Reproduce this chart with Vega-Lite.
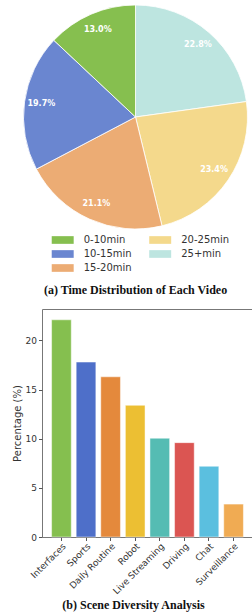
{
  "$schema": "https://vega.github.io/schema/vega-lite/v6.json",
  "padding": {"left": 11, "top": 0, "right": 0, "bottom": 0},
  "background": "white",
  "spacing": 12,
  "resolve": {"scale": {"color": "independent"}, "legend": {"color": "independent"}},
  "config": {"view": {"stroke": null}, "font": "DejaVu Sans"},
  "vconcat": [
    {
      "width": 211,
      "height": 234,
      "title": {"text": "(a) Time Distribution of Each Video", "orient": "bottom", "font": "Liberation Serif", "fontSize": 12, "fontWeight": "bold", "anchor": "middle", "offset": 12, "color": "#111", "dx": -12},
      "data": {"values": [
        {"range": "25+min", "pct": 22.8, "ord": 1, "label": "22.8%"},
        {"range": "20-25min", "pct": 23.4, "ord": 2, "label": "23.4%"},
        {"range": "15-20min", "pct": 21.1, "ord": 3, "label": "21.1%"},
        {"range": "10-15min", "pct": 19.7, "ord": 4, "label": "19.7%"},
        {"range": "0-10min", "pct": 13.0, "ord": 5, "label": "13.0%"}
      ]},
      "encoding": {
        "theta": {"field": "pct", "type": "quantitative", "stack": true},
        "order": {"field": "ord", "type": "quantitative"},
        "color": {
          "field": "range", "type": "nominal",
          "scale": {"domain": ["0-10min", "10-15min", "15-20min", "20-25min", "25+min"], "range": ["#86bf4f", "#6a86d0", "#ecac74", "#f4d98c", "#bde5e0"]},
          "legend": {"title": null, "orient": "none", "legendX": 15.7, "legendY": 235, "columns": 2, "columnPadding": 17.5, "rowPadding": 4, "symbolType": "M-2.86,-1H2.86V1H-2.86Z", "symbolSize": 59, "symbolStrokeWidth": 0, "symbolOpacity": 1, "labelFontSize": 10, "labelColor": "#333", "labelOffset": 16, "labelFont": "DejaVu Sans"}
        }
      },
      "layer": [
        {"mark": {"type": "arc", "outerRadius": 112, "stroke": "white", "strokeWidth": 0.8, "xOffset": -12}},
        {"mark": {"type": "text", "radius": 95, "xOffset": -12, "fontWeight": "bold", "fontSize": 8, "font": "DejaVu Sans"}, "encoding": {"text": {"field": "label"}, "color": {"value": "white"}}}
      ]
    },
    {
      "width": 211,
      "height": 228,
      "view": {"stroke": "#777", "strokeWidth": 1},
      "title": {"text": "(b) Scene Diversity Analysis", "orient": "bottom", "font": "Liberation Serif", "fontSize": 12, "fontWeight": "bold", "anchor": "middle", "offset": 4, "color": "#111", "dx": -14},
      "data": {"values": [
        {"scene": "Interfaces", "pct": 22.1},
        {"scene": "Sports", "pct": 17.8},
        {"scene": "Daily Routine", "pct": 16.3},
        {"scene": "Robot", "pct": 13.4},
        {"scene": "Live Streaming", "pct": 10.05},
        {"scene": "Driving", "pct": 9.6},
        {"scene": "Chat", "pct": 7.2},
        {"scene": "Surveillance", "pct": 3.35}
      ]},
      "mark": {"type": "bar", "stroke": "white", "strokeWidth": 0.8, "strokeOpacity": 0.6},
      "encoding": {
        "x": {"field": "scene", "type": "nominal", "sort": null,
          "scale": {"paddingInner": 0.2, "paddingOuter": 0.39},
          "axis": {"title": null, "labelAngle": -45, "labelAlign": "right", "labelBaseline": "top", "labelFontSize": 9, "labelColor": "#333", "tickSize": 3.5, "tickColor": "#555", "domain": false, "labelPadding": 1}},
        "y": {"field": "pct", "type": "quantitative",
          "scale": {"domain": [0, 23.2], "nice": false},
          "axis": {"values": [0, 5, 10, 15, 20], "grid": false, "title": "Percentage (%)", "titleFontSize": 10, "titleFontWeight": "normal", "titleColor": "#333", "titlePadding": 3, "labelFontSize": 9, "labelColor": "#333", "tickSize": 3.5, "tickColor": "#555", "domain": false, "labelPadding": 2}},
        "color": {"field": "scene", "type": "nominal",
          "scale": {"domain": ["Interfaces", "Sports", "Daily Routine", "Robot", "Live Streaming", "Driving", "Chat", "Surveillance"], "range": ["#85bf4f", "#4e6fc9", "#e4893c", "#ecbf33", "#55bcb3", "#db5552", "#5bbfdf", "#f0ab53"]},
          "legend": null}
      }
    }
  ]
}
